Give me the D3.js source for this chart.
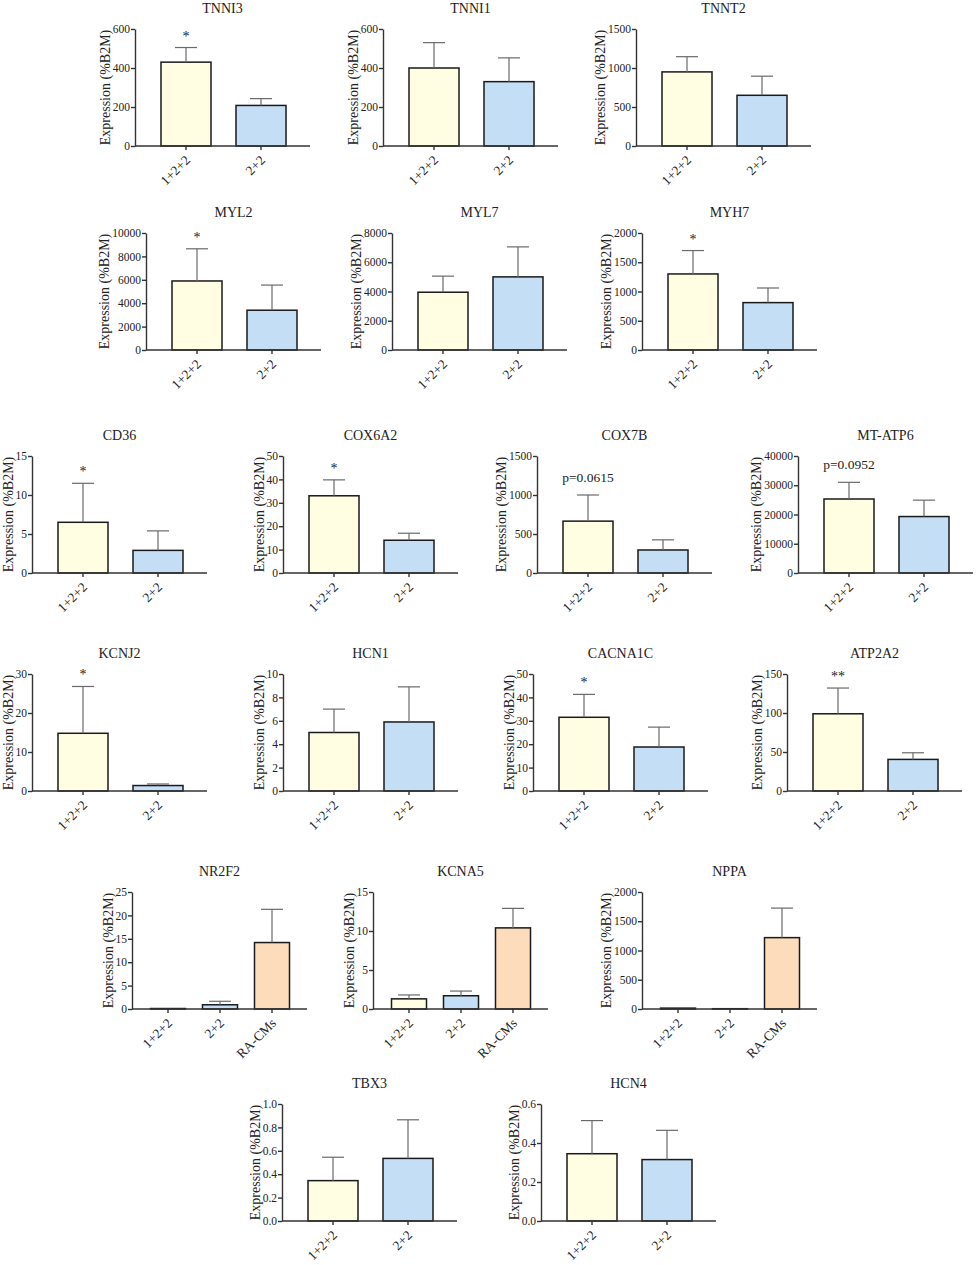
<!DOCTYPE html>
<html>
<head>
<meta charset="utf-8">
<script src="https://cdnjs.cloudflare.com/ajax/libs/d3/7.8.5/d3.min.js"></script>
<style>
body { margin: 0; background: #fff; }
text { font-family: "Liberation Serif", "Times New Roman", serif; fill: #222; }
</style>
</head>
<body>
<svg id="chart" width="976" height="1265"></svg>
<script>
const genes = ["TNNI3", "TNNI1", "TNNT2", "MYL2", "MYL7", "MYH7",
    "CD36", "COX6A2", "COX7B", "MT-ATP6",
    "KCNJ2", "HCN1", "CACNA1C", "ATP2A2",
    "NR2F2", "KCNA5", "NPPA", "TBX3", "HCN4"];
const groupsTwo = ["1+2+2", "2+2"];
const groupsThree = ["1+2+2", "2+2", "RA-CMs"];
const means = [
    [430, 208], [400, 330], [950, 650],
    [5900, 3400], [3950, 5000], [1300, 810],
    [6.5, 2.9], [33, 14], [665, 295], [25300, 19300],
    [14.8, 1.4], [5.0, 5.9], [31.5, 18.8], [99, 40.5],
    [0.1, 0.9, 14.2], [1.3, 1.7, 10.4], [15, 5, 1220],
    [0.345, 0.535], [0.345, 0.315]
];
const sds = [
    [75, 35], [130, 122], [195, 245],
    [2750, 2150], [1100, 2050], [400, 250],
    [5.0, 2.5], [6.8, 3.0], [335, 130], [5700, 5600],
    [12.0, 0.4], [2.0, 3.0], [9.8, 8.5], [33, 8.5],
    [0, 0.75, 7.1], [0.5, 0.6, 2.5], [0, 0, 505],
    [0.2, 0.33], [0.17, 0.15]
];
const yMax = [600, 600, 1500, 10000, 8000, 2000, 15, 50, 1500, 40000,
    30, 10, 50, 150, 25, 15, 2000, 1.0, 0.6];
const yStep = [200, 200, 500, 2000, 2000, 500, 5, 10, 500, 10000,
    10, 2, 10, 50, 5, 5, 500, 0.2, 0.2];
const marks = ["*", "", "", "*", "", "*", "*", "*", "p=0.0615", "p=0.0952",
    "*", "", "*", "**", "", "", "", "", ""];

// layout: left/top corner of each plot area
const panelLeft = [135, 383, 636, 146, 392, 642, 32, 283, 537, 798,
    32, 283, 533, 787, 132, 373, 642, 282, 541];
const panelTop = [29, 29, 29, 233, 233, 233, 456, 456, 456, 456,
    674, 674, 674, 674, 892, 892, 892, 1104, 1104];

const plotW = 175, plotH = 117;
const fills = { "1+2+2": "#fffee2", "2+2": "#c4def6", "RA-CMs": "#fddcbb" };

let svg = d3.select("#chart");

function draw_panel(i) {
    let cats = means[i].length === 3 ? groupsThree : groupsTwo;
    let rows = cats.map((c, j) => ({ cat: c, mean: means[i][j], sd: sds[i][j] }));
    let g = svg.append("g")
        .attr("transform", `translate(${panelLeft[i]}, ${panelTop[i]})`);

    let x = d3.scaleBand()
        .domain(cats)
        .range(cats.length === 3 ? [18.5, 157.5] : [26, 151])
        .paddingInner(cats.length === 3 ? 17 / 52 : 1 / 3);
    let y = d3.scaleLinear()
        .domain([0, yMax[i]])
        .range([plotH, 0]);

    // bars
    g.selectAll("rect")
        .data(rows).enter()
        .append("rect")
        .attr("x", d => x(d.cat))
        .attr("y", d => y(d.mean))
        .attr("width", x.bandwidth())
        .attr("height", d => plotH - y(d.mean))
        .attr("fill", d => fills[d.cat])
        .attr("stroke", "#1a1a1a")
        .attr("stroke-width", 1.5);

    // upper error bars
    let err = g.selectAll(".err")
        .data(rows.filter(d => d.sd > 0)).enter()
        .append("g")
        .attr("class", "err")
        .attr("stroke", "#6a6a6a")
        .attr("stroke-width", 1.2);
    err.append("line")
        .attr("x1", d => x(d.cat) + x.bandwidth() / 2)
        .attr("x2", d => x(d.cat) + x.bandwidth() / 2)
        .attr("y1", d => y(d.mean))
        .attr("y2", d => y(d.mean + d.sd));
    err.append("line")
        .attr("x1", d => x(d.cat) + x.bandwidth() / 2 - 11)
        .attr("x2", d => x(d.cat) + x.bandwidth() / 2 + 11)
        .attr("y1", d => y(d.mean + d.sd))
        .attr("y2", d => y(d.mean + d.sd));

    // y axis
    let fmt = yStep[i] < 1 ? d3.format(".1f") : d3.format("d");
    let y_axis = d3.axisLeft(y)
        .tickValues(d3.range(0, yMax[i] + yStep[i] / 2, yStep[i]))
        .tickFormat(fmt)
        .tickSize(4)
        .tickSizeOuter(0)
        .tickPadding(1);
    let ya = g.append("g").call(y_axis);
    ya.selectAll("text").style("font-size", "11.5px").attr("fill", "#222");

    // x axis
    let x_axis = d3.axisBottom(x).tickSize(4).tickSizeOuter(0);
    let xa = g.append("g")
        .attr("transform", `translate(0, ${plotH})`)
        .call(x_axis);
    xa.select(".domain").remove();
    xa.append("line")
        .attr("x1", 0).attr("x2", plotW)
        .attr("stroke", "#333");
    xa.selectAll(".tick text")
        .style("font-size", "13.5px")
        .attr("fill", "#222")
        .attr("text-anchor", "end")
        .attr("x", 0).attr("y", 0).attr("dy", 0)
        .attr("transform", "translate(5, 15) rotate(-45)");

    [ya, xa].forEach(a => {
        a.selectAll("line, path").attr("stroke", "#333").attr("stroke-width", 1.4);
    });

    // y title, placed left of the tick labels
    let tickW = ya.node().getBBox().width;
    g.append("text")
        .attr("transform", "rotate(-90)")
        .attr("x", -plotH / 2)
        .attr("y", -(tickW + 2.5))
        .attr("text-anchor", "middle")
        .style("font-size", "14px")
        .text("Expression (%B2M)");

    // panel title
    g.append("text")
        .attr("x", plotW / 2)
        .attr("y", -16)
        .attr("text-anchor", "middle")
        .style("font-size", "14px")
        .text(genes[i]);

    // significance over the first group
    if (marks[i]) {
        let first = rows[0];
        let isP = marks[i].startsWith("p");
        g.append("text")
            .attr("x", x(first.cat) + x.bandwidth() / 2)
            .attr("y", y(first.mean + first.sd) - (isP ? 13 : 7))
            .attr("text-anchor", "middle")
            .style("font-size", isP ? "13.5px" : "14px")
            .text(marks[i]);
    }
}

genes.forEach((_, i) => draw_panel(i));
</script>
</body>
</html>
